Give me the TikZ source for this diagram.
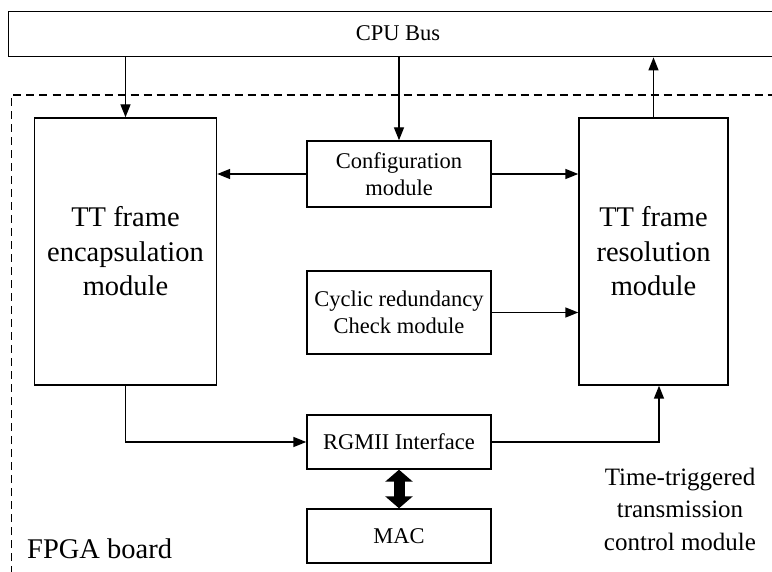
\documentclass[tikz,border=0pt]{standalone}
\usepackage{fontspec}
\setmainfont{Liberation Serif}
\usetikzlibrary{arrows.meta,calc}

\tikzset{
  blk/.style={draw, line width=1.4pt, rectangle, inner sep=0pt, align=center},
  bigtxt/.style={font=\fontsize{28.5}{34.5}\selectfont},
  smalltxt/.style={font=\fontsize{22.5}{27}\selectfont},
  link/.style={line width=1.4pt, -{Triangle[length=13pt,width=10pt]}},
  fatlink/.style={line width=11pt, {Triangle[length=12pt,width=27pt]}-{Triangle[length=12pt,width=27pt]}},
  board/.style={line width=1.3pt, dash pattern=on 8pt off 5pt},
}

\begin{document}
\begin{tikzpicture}[x=1pt,y=-1pt]
\clip (0,0) rectangle (772,572);
\fill[white] (0,0) rectangle (772,572);

% FPGA board outline (runs off the right and bottom edges)
\draw[board] (11.5,600) -- (11.5,95) -- (800,95);

% CPU bus along the top
\node[blk, smalltxt, minimum width=800pt, minimum height=45pt, anchor=north west] (bus) at (8,11) {};
\node[smalltxt] (bustext) at (398,33) {CPU Bus};

% Main blocks
\node[blk, bigtxt, minimum width=182pt, minimum height=267pt] (enc) at (125.5,251.5)
  {TT frame\\encapsulation\\module};
\node[blk, bigtxt, minimum width=149pt, minimum height=267pt] (res) at (653.5,251.5)
  {TT frame\\resolution\\module};
\node[blk, smalltxt, minimum width=184pt, minimum height=66pt] (cfg) at (399,174)
  {Configuration\\module};
\node[blk, smalltxt, minimum width=184pt, minimum height=83pt] (crc) at (399,312.5)
  {Cyclic redundancy\\Check module};
\node[blk, smalltxt, minimum width=184pt, minimum height=54pt] (rgmii) at (399,442)
  {RGMII Interface};
\node[blk, smalltxt, minimum width=184pt, minimum height=54pt] (mac) at (399,536)
  {MAC};

% Labels
\node[font=\fontsize{25}{32.5}\selectfont, align=center] (ttlabel) at (680,509)
  {Time-triggered\\transmission\\control module};
\node[font=\fontsize{28.5}{32}\selectfont, anchor=base west, inner sep=0pt] (fpgalabel) at (27,558)
  {FPGA board};

% Bus connections
\draw[link] (bus.south -| enc.north) -- (enc.north);
\draw[link] (bus.south -| cfg.north) -- (cfg.north);
\draw[link] (res.north) -- (res.north |- bus.south);

% Configuration and CRC
\draw[link] (cfg.west) -- (cfg.west -| enc.east);
\draw[link] (cfg.east) -- (cfg.east -| res.west);
\draw[link] (crc.east) -- (crc.east -| res.west);

% Data path through the RGMII interface
\draw[link] (enc.south) |- (rgmii.west);
\coordinate (resin) at ([xshift=5.5pt]res.south);
\draw[link] (rgmii.east) -| (resin);
\draw[fatlink] (rgmii.south) -- (mac.north);
\end{tikzpicture}
\end{document}
